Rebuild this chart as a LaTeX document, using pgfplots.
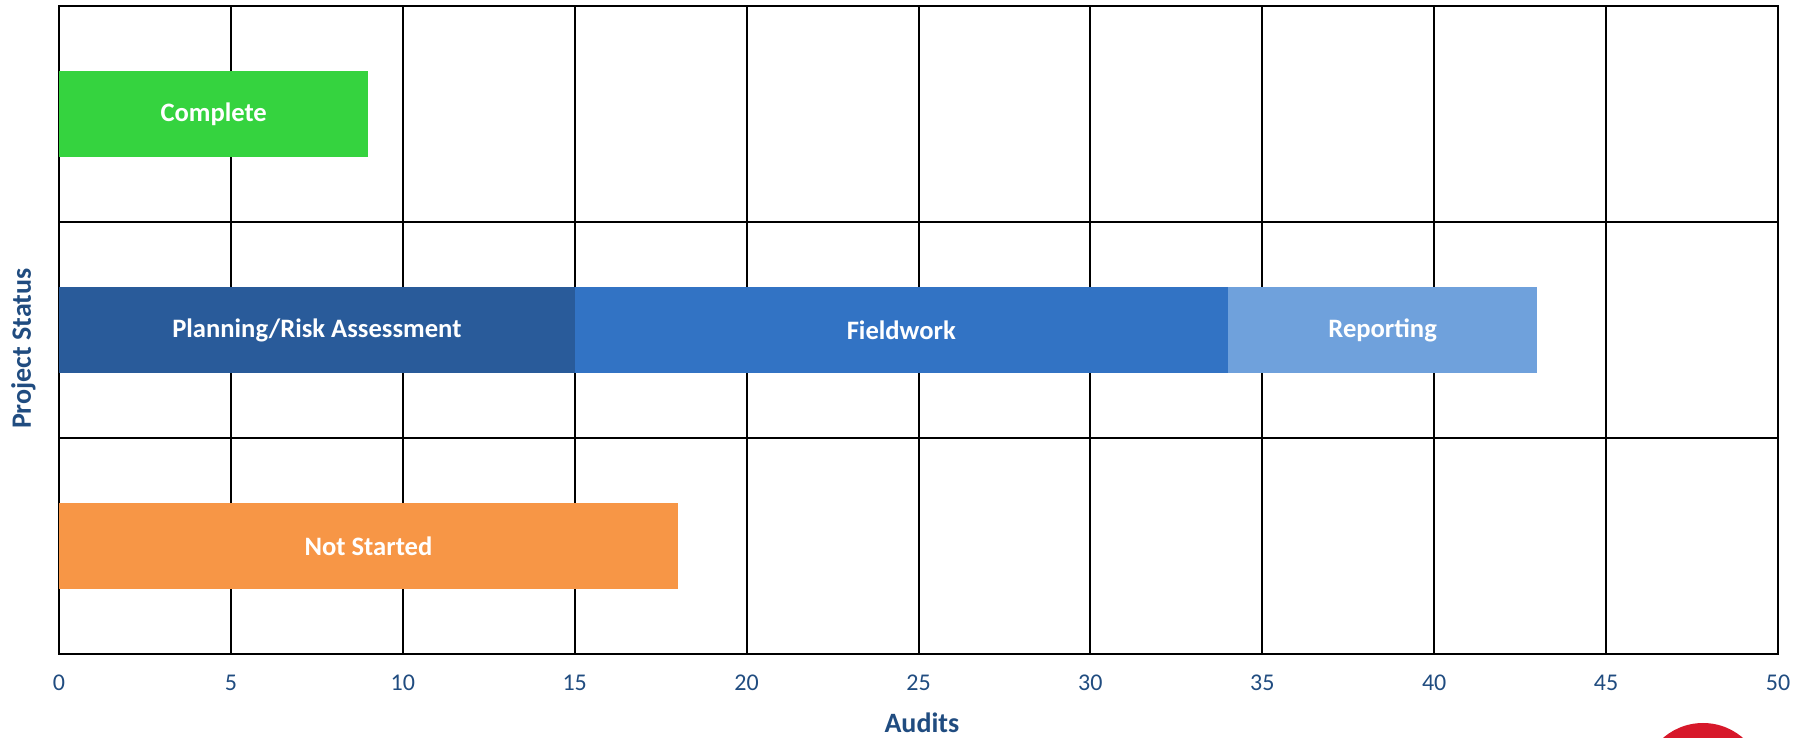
\documentclass[border=0pt]{standalone}
\usepackage{fontspec}
\setmainfont{Carlito}
\usepackage{pgfplots}
\pgfplotsset{compat=1.18}
\definecolor{cgreen}{RGB}{53,211,63}
\definecolor{cdblue}{RGB}{41,91,154}
\definecolor{cmblue}{RGB}{50,115,196}
\definecolor{clblue}{RGB}{111,161,220}
\definecolor{corange}{RGB}{247,150,70}
\definecolor{ctext}{RGB}{32,76,128}
\definecolor{cred}{RGB}{215,24,42}
\begin{document}
\begin{tikzpicture}
\begin{axis}[
  scale only axis,
  width=859.5pt, height=324pt,
  xbar stacked, bar width=43.4pt,
  xmin=0, xmax=50, ymin=-0.5, ymax=2.5,
  xtick={0,5,...,50},
  ytick={0.5,1.5}, yticklabels={},
  xmajorgrids, ymajorgrids,
  major grid style={black, line width=1pt},
  axis line style={black, line width=1pt},
  tick style={draw=none},
  /pgf/number format/assume math mode=true,
  ticklabel style={font=\fontsize{12}{14}\selectfont, text=ctext},
  xticklabel style={yshift=-7pt},
  xlabel={Audits}, ylabel={Project Status},
  label style={font=\fontsize{14}{16}\selectfont\bfseries, text=ctext, inner sep=0pt},
  xlabel style={at={(axis description cs:0.5,0)}, anchor=center, yshift=-34.3pt, xshift=1.7pt},
  ylabel style={at={(axis description cs:0,0.5)}, anchor=center, yshift=17.8pt, xshift=-9.3pt},
  clip=false,
]
\addplot[fill=cgreen, draw=none] coordinates {(9,2) (0,1) (0,0)};
\addplot[fill=cdblue, draw=none] coordinates {(0,2) (15,1) (0,0)};
\addplot[fill=cmblue, draw=none] coordinates {(0,2) (19,1) (0,0)};
\addplot[fill=clblue, draw=none] coordinates {(0,2) (9,1) (0,0)};
\addplot[fill=corange, draw=none] coordinates {(0,2) (0,1) (18,0)};
\coordinate (l1) at (axis cs:4.5,2);
\coordinate (l2) at (axis cs:7.5,1);
\coordinate (l3) at (axis cs:24.5,1);
\coordinate (l4) at (axis cs:38.5,1);
\coordinate (l5) at (axis cs:9,0);
\end{axis}
\begin{scope}[every node/.style={font=\fontsize{13.3}{15}\selectfont\bfseries, text=white}]
\node at (l1) {Complete};
\node at (l2) {Planning/Risk Assessment};
\node at (l3) {Fieldwork};
\node at (l4) {Reporting};
\node at (l5) {Not Started};
\end{scope}
\path ([shift={(-29.5pt,-42pt)}]current axis.south west) rectangle ([shift={(18pt,3pt)}]current axis.north east);
\fill[cred, overlay] ([shift={(822pt,-65pt)}]current axis.south west) circle (30.5pt);
\end{tikzpicture}
\end{document}
